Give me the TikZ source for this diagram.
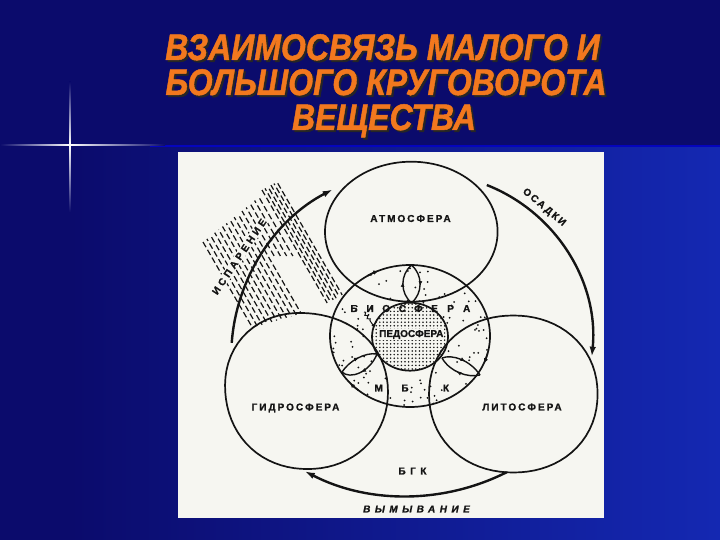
\documentclass[tikz,border=0pt]{standalone}
\usepackage{fontspec}
\setmainfont{Liberation Sans}
\newfontfamily\lblfont[LetterSpace=20,FakeBold=1.2]{Liberation Sans}
\newfontfamily\midfont[LetterSpace=32,FakeBold=1.2]{Liberation Sans}
\newfontfamily\widefont[LetterSpace=45,FakeBold=1.2]{Liberation Sans}
\newfontfamily\plainbold[FakeBold=1.2]{Liberation Sans}
\newfontfamily\titlefont[FakeBold=1.3]{Liberation Sans}
\usetikzlibrary{calc,arrows.meta,decorations.pathmorphing,decorations.markings,patterns}
\definecolor{bgnavy}{HTML}{0B0B6C}
\definecolor{bgblue}{HTML}{1428B2}
\definecolor{titleor}{HTML}{F2781E}
\definecolor{paper}{HTML}{F6F6F1}
\definecolor{ink}{HTML}{141414}
\pgfdeclarepatternformonly{peddots}{\pgfpoint{-1pt}{-1pt}}{\pgfpoint{5pt}{5pt}}{\pgfpoint{3.6pt}{3.6pt}}{\pgfpathcircle{\pgfpoint{1.8pt}{1.8pt}}{0.85pt}\pgfusepath{fill}}
\tikzset{
  sphere/.style={draw=ink, line width=1.7pt},
  cyclearc/.style={draw=ink, line width=2.4pt, -{Latex[length=10pt,width=6.5pt]}},
  hatch/.style={draw=ink, line width=1.2pt, dash pattern=on 6pt off 3pt},
  lbl/.style={text=ink, inner sep=0pt, font=\lblfont\bfseries\fontsize{10}{11}\selectfont},
  lensarrow/.style={draw=ink, line width=1.4pt, postaction={decorate},
    decoration={markings, mark=at position 0.55 with {\arrow{Latex[length=5pt,width=4pt]}}}},
  tiparrow/.style={draw=ink, line width=1.5pt, -{Latex[length=5.5pt,width=4.5pt]}},
  ttl/.style={inner sep=0pt, anchor=base, font=\titlefont\bfseries\itshape\fontsize{37}{40}\selectfont}
}
\begin{document}
\begin{tikzpicture}[x=1pt,y=-1pt,
  declare function={
    hr(\t)=80.5/((abs(cos(\t))+0.0001)^2.08+(1.045*abs(sin(\t))+0.0001)^2.08)^(1/2.08)+5*max(0,cos(\t-225))^3;
    lr(\t)=84.3/((abs(cos(\t))+0.0001)^2.1+(1.074*abs(sin(\t))+0.0001)^2.1)^(1/2.1);
  }]
\useasboundingbox (0,0) rectangle (720,540);
% background
\fill[bgnavy] (0,0) rectangle (720,540);
\shade[left color=bgnavy, right color=bgblue] (70,146) rectangle (720,540);
\fill[blue!55!bgnavy] (150,145.2) rectangle (720,146.6);
% glare
\shade[left color=bgnavy, right color=white] (0,144.2) rectangle (70,145.8);
\shade[left color=white, right color=bgnavy] (70,144.2) rectangle (165,145.8);
\shade[top color=bgnavy, bottom color=white] (69.2,82) rectangle (70.8,145);
\shade[top color=white, bottom color=bgnavy] (69.2,145) rectangle (70.8,212);
% title
\foreach \tx/\ty/\tt/\nm in {382.5/60/{ВЗАИМОСВЯЗЬ МАЛОГО И}/t1, 386/95/{БОЛЬШОГО КРУГОВОРОТА}/t2, 384/130/{ВЕЩЕСТВА}/t3}{
  \node[ttl, text=black!85] at (\tx+2,\ty+2) {\scalebox{0.865}[1]{\tt}};
  \node[ttl, text=titleor] (\nm) at (\tx,\ty) {\scalebox{0.865}[1]{\tt}};
}
% paper
\fill[paper] (178,152) rectangle (604,518);
% centres
\coordinate (atm) at (411.3,231.7);
\coordinate (bio) at (410,336);
\coordinate (ped) at (410,336.7);
\coordinate (hyd) at (307.5,392);
\coordinate (lit) at (513.3,394);
% hatching: left group (ends on the hydrosphere)
\foreach \i in {0,...,10}{
  \pgfmathsetmacro\s{\i/10}
  \pgfmathsetmacro\xa{203+39*\s}
  \pgfmathsetmacro\ya{242-31*\s}
  \pgfmathsetmacro\yb{327.5-14*\s}
  \pgfmathsetmacro\ph{mod(\i*3.7,9)}
  \draw[hatch, dash phase=\ph pt] (\xa,\ya) -- ({\xa+0.577*(\yb-\ya)},\yb);
}
% middle lines (short)
\foreach \i in {1,...,4}{
  \pgfmathsetmacro\xa{242+4.2*\i}
  \pgfmathsetmacro\ya{211-3.5*\i}
  \pgfmathsetmacro\ph{mod(\i*4.1,9)}
  \draw[hatch, dash phase=\ph pt] (\xa,\ya) -- ({\xa+0.577*(256-\ya)},256);
}
% right group (ends at the biosphere)
\foreach \i in {0,...,5}{
  \pgfmathsetmacro\s{\i/5}
  \pgfmathsetmacro\xa{262+15*\s}
  \pgfmathsetmacro\ya{190-8*\s}
  \pgfmathsetmacro\yb{303-8*\s}
  \pgfmathsetmacro\ph{mod(\i*3.3,9)}
  \draw[hatch, dash phase=\ph pt] (\xa,\ya) -- ({\xa+0.577*(\yb-\ya)},\yb);
}
% biosphere stipple
\begin{scope}
  \clip (bio) ellipse [x radius=80, y radius=71];
  \pgfmathsetseed{12}
  \foreach \i in {1,...,150}{
    \pgfmathsetmacro{\px}{410+80*rand}
    \pgfmathsetmacro{\py}{336+71*rand}
    \fill[ink] (\px,\py) circle[radius=1];
  }
\end{scope}
% pedosphere
\fill[paper] (ped) ellipse [x radius=38, y radius=34];
\fill[pattern=peddots, pattern color=ink] (ped) ellipse [x radius=38, y radius=34];
% spheres
\draw[sphere] (atm) ellipse [x radius=86.3, y radius=70];
\draw[sphere] plot[domain=0:355, samples=72, variable=\t] ({307.5+hr(\t)*cos(\t)}, {392+hr(\t)*sin(\t)}) -- cycle;
\draw[sphere] plot[domain=0:355, samples=72, variable=\t] ({513.3+lr(\t)*cos(\t)}, {394+lr(\t)*sin(\t)}) -- cycle;
\draw[sphere] (bio) ellipse [x radius=80, y radius=71];
\draw[sphere] (ped) ellipse [x radius=38, y radius=34];
% big cycle arcs
\coordinate (cL) at (419.7,356.7);
\coordinate (cR) at (425.6,340.4);
\coordinate (cB) at (406.7,274);
\draw[cyclearc] (cL) ++(184.2:188.5) arc[start angle=184.2, end angle=242.5, radius=188.5];
\draw[cyclearc] (cR) ++(-68.5:167) arc[start angle=-68.5, end angle=5.6, radius=167];
\draw[cyclearc] (cB) ++(63.2:222) arc[start angle=63.2, end angle=117.3, radius=222];
% lenses (small cycles)
\coordinate (T1) at (411.5,265);
\coordinate (T2) at (411.5,303);
\draw[lensarrow] (T2) .. controls (400,293) and (400,275) .. (T1);
\draw[lensarrow] (T1) .. controls (423,275) and (423,293) .. (T2);
\coordinate (L1) at (342,372);
\coordinate (L2) at (377,354);
\draw[lensarrow] (L1) .. controls (349,361) and (365,352) .. (L2);
\draw[lensarrow] (L2) .. controls (370,372) and (350,380) .. (L1);
\coordinate (R1) at (442,358);
\coordinate (R2) at (480,375);
\draw[lensarrow] (R1) .. controls (452,354) and (470,360) .. (R2);
\draw[lensarrow] (R2) .. controls (468,378) and (450,372) .. (R1);
% arrows on biosphere
\draw[tiparrow] (bio) ++(238:80 and 71) arc[start angle=238, end angle=247, x radius=80, y radius=71];
\draw[tiparrow] (bio) ++(14:80 and 71) arc[start angle=14, end angle=23, x radius=80, y radius=71];
\draw[tiparrow] (bio) ++(130:80 and 71) arc[start angle=130, end angle=139, x radius=80, y radius=71];
% squiggle
\coordinate (sq1) at (364,312);
\coordinate (sq2) at (375,328);
\coordinate (sq3) at ($(sq1)!0.8!(sq2)$);
\draw[ink, line width=1pt, decorate, decoration={snake, amplitude=1.2pt, segment length=4pt, post length=4pt}] (sq1) -- (sq3);
\draw[ink, line width=1pt, -{Latex[length=4pt,width=3pt]}] (sq3) -- (sq2);
% labels
\node[lbl] (latm) at (410.5,218.5) {АТМОСФЕРА};
\node[lbl] (lhyd) at (295.5,408) {ГИДРОСФЕРА};
\node[lbl] (llit) at (522,407) {ЛИТОСФЕРА};
\foreach \ch [count=\k from 0] in {Б,И,О,С,Ф,Е,Р,А}{
  \node[lbl] (b\k) at ({354+16.1*\k},308.5) {\ch};
}
\node[lbl, fill=paper, inner sep=1pt, font=\plainbold\bfseries\fontsize{10}{11}\selectfont] (lped) at (411.3,334.5) {ПЕДОСФЕРА};
\node[lbl] (lm) at (378.7,388) {М};
\node[lbl] (lb) at (405,388) {Б};
\node[lbl] (lk) at (446,388) {К};
\node[lbl, font=\widefont\bfseries\fontsize{10}{11}\selectfont] (lbgk) at (412.5,471) {БГК};
\node[lbl, font=\widefont\bfseries\itshape\fontsize{10}{11}\selectfont] (lvym) at (416.5,509) {ВЫМЫВАНИЕ};
\node[lbl, fill=paper, inner sep=1.2pt, rotate=56, font=\midfont\bfseries\fontsize{10}{11}\selectfont] (lisp) at (239.2,256.7) {ИСПАРЕНИЕ};
\node[lbl, rotate=-40, font=\lblfont\bfseries\fontsize{10}{11}\selectfont] (losa) at (544,207.5) {ОСАДКИ};
\end{tikzpicture}
\end{document}
